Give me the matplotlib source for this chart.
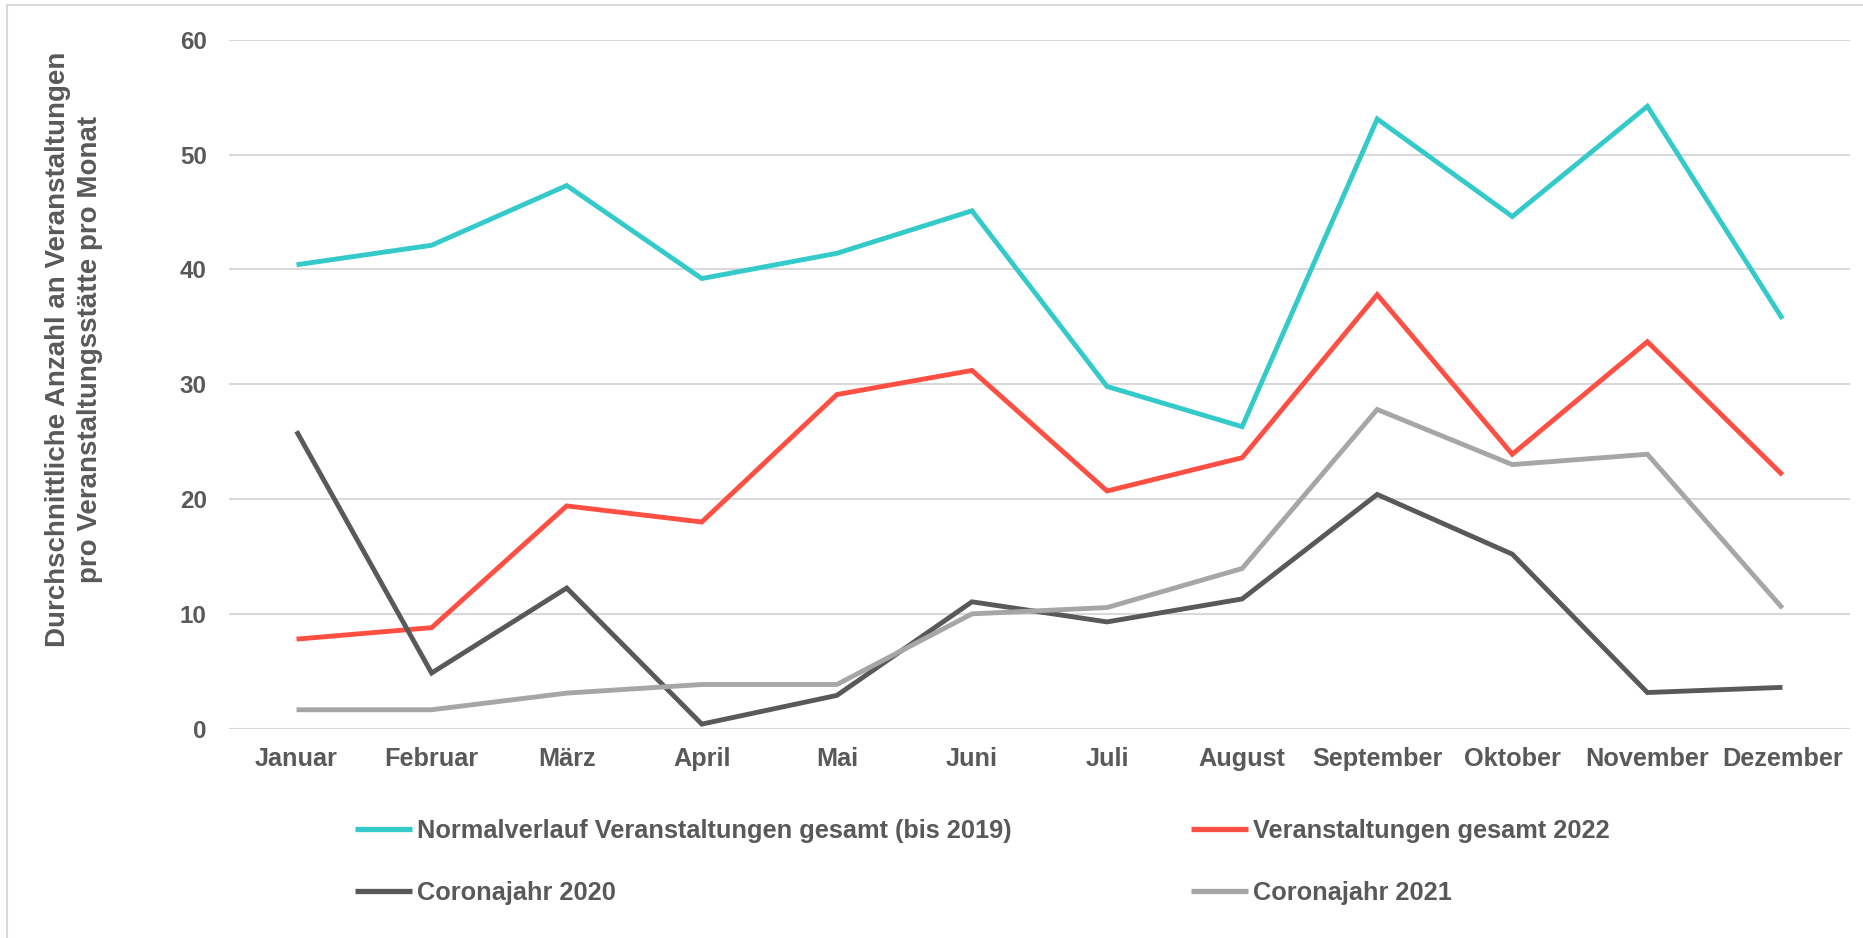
import matplotlib
matplotlib.use("Agg")
import matplotlib.pyplot as plt
import matplotlib.patches as patches

# Monate
months = ["Januar", "Februar", "März", "April", "Mai", "Juni", "Juli",
          "August", "September", "Oktober", "November", "Dezember"]

# Durchschnittliche Anzahl an Veranstaltungen pro Veranstaltungsstaette
normal = [40.4, 42.1, 47.3, 39.2, 41.4, 45.1, 29.8, 26.3, 53.1, 44.6, 54.2, 35.7]
gesamt_2022 = [7.8, 8.8, 19.4, 18.0, 29.1, 31.2, 20.7, 23.6, 37.8, 23.9, 33.7, 22.1]
corona_2020 = [25.9, 4.85, 12.25, 0.4, 2.9, 11.05, 9.3, 11.3, 20.4, 15.2, 3.15, 3.6]
corona_2021 = [1.65, 1.65, 3.1, 3.85, 3.85, 10.0, 10.55, 13.95, 27.8, 23.0, 23.9, 10.5]

yticks = [0, 10, 20, 30, 40, 50, 60]

series = [
    ("Normalverlauf Veranstaltungen gesamt (bis 2019)", normal, "#35CACA"),
    ("Veranstaltungen gesamt 2022", gesamt_2022, "#FF4F43"),
    ("Coronajahr 2020", corona_2020, "#595959"),
    ("Coronajahr 2021", corona_2021, "#A6A6A6"),
]

txt = "#595959"
plt.rcParams['font.family'] = ['Liberation Sans', 'DejaVu Sans']
plt.rcParams['font.weight'] = 'bold'

W, H = 1863, 938
fig = plt.figure(figsize=(W / 100, H / 100), dpi=100)
ax = fig.add_axes([229 / W, 1 - 728.7 / H, (1850 - 229) / W, (728.7 - 39.7) / H])

x = list(range(len(months)))
handles = {}
for label, vals, col in series:
    h, = ax.plot(x, vals, color=col, linewidth=3.5, label=label,
                 solid_joinstyle='miter', solid_capstyle='butt', zorder=3)
    handles[label] = h

ax.set_xlim(-0.5, len(months) - 0.5)
ax.set_ylim(0, 60)
ax.set_yticks(yticks)
ax.set_xticks(x)
ax.set_xticklabels(months)
ax.yaxis.grid(True, color="#D9D9D9", linewidth=1.5)
ax.set_axisbelow(True)
for s in ax.spines.values():
    s.set_visible(False)
ax.tick_params(axis='both', length=0, labelcolor=txt)
ax.tick_params(axis='y', pad=16, labelsize=17.4)
ax.tick_params(axis='x', pad=13, labelsize=18.2)

fig.text(74 / W, 1 - 349 / H,
         "Durchschnittliche Anzahl an Veranstaltungen\npro Veranstaltungsstätte pro Monat",
         rotation=90, ha='center', va='center', fontsize=20, color=txt,
         fontweight='bold', linespacing=1.32)

# Legende zeilenweise: Matplotlib fuellt spaltenweise
order = [series[0][0], series[2][0], series[1][0], series[3][0]]
leg = fig.legend(handles=[handles[k] for k in order], loc='upper left', ncol=2,
                 bbox_to_anchor=(355 / W, 1 - 819 / H), frameon=False,
                 fontsize=18.3, handlelength=2.24, handletextpad=0.2,
                 columnspacing=7.05, labelspacing=1.5, borderaxespad=0,
                 borderpad=0)
for t in leg.get_texts():
    t.set_color(txt)
for lh in leg.get_lines():
    lh.set_linewidth(3.8)

# Rahmen des Diagrammbereichs
fig.patches.append(patches.Rectangle((7 / W, -0.01), 1.0, 1 - 5 / H + 0.01,
                                     transform=fig.transFigure, fill=False,
                                     edgecolor="#D9D9D9", linewidth=1.5))

fig.savefig("out.png", dpi=100)
